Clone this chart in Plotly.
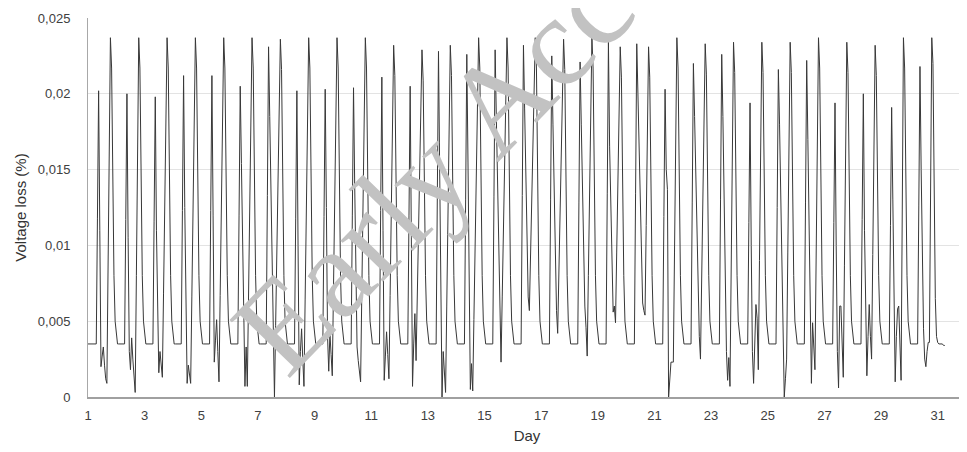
import plotly.graph_objects as go

# Hourly voltage loss (%), one list per day (hours 0..23)
day_01 = [0.0035, 0.0035, 0.0035, 0.0035, 0.0035, 0.0035, 0.0035, 0.0035, 0.0118, 0.0202, 0.0110, 0.0020, 0.0027, 0.0033, 0.0021, 0.0012, 0.0009, 0.0085, 0.0160, 0.0237, 0.0217, 0.0140, 0.0080, 0.0050]
day_02 = [0.0040, 0.0035, 0.0035, 0.0035, 0.0035, 0.0035, 0.0035, 0.0035, 0.0117, 0.0200, 0.0105, 0.0030, 0.0018, 0.0039, 0.0025, 0.0010, 0.0003, 0.0080, 0.0160, 0.0237, 0.0217, 0.0140, 0.0080, 0.0050]
day_03 = [0.0040, 0.0035, 0.0035, 0.0035, 0.0035, 0.0035, 0.0035, 0.0035, 0.0116, 0.0198, 0.0110, 0.0050, 0.0016, 0.0030, 0.0022, 0.0013, 0.0068, 0.0125, 0.0181, 0.0237, 0.0217, 0.0140, 0.0080, 0.0050]
day_04 = [0.0040, 0.0035, 0.0035, 0.0035, 0.0035, 0.0035, 0.0035, 0.0035, 0.0123, 0.0212, 0.0125, 0.0050, 0.0009, 0.0021, 0.0015, 0.0009, 0.0066, 0.0123, 0.0180, 0.0237, 0.0217, 0.0140, 0.0080, 0.0050]
day_05 = [0.0040, 0.0035, 0.0035, 0.0035, 0.0035, 0.0035, 0.0035, 0.0035, 0.0123, 0.0212, 0.0120, 0.0023, 0.0037, 0.0051, 0.0030, 0.0010, 0.0067, 0.0124, 0.0180, 0.0237, 0.0217, 0.0140, 0.0080, 0.0050]
day_06 = [0.0040, 0.0035, 0.0035, 0.0035, 0.0035, 0.0035, 0.0035, 0.0035, 0.0120, 0.0205, 0.0154, 0.0103, 0.0052, 0.0007, 0.0033, 0.0007, 0.0064, 0.0122, 0.0180, 0.0237, 0.0217, 0.0140, 0.0080, 0.0050]
day_07 = [0.0040, 0.0035, 0.0035, 0.0035, 0.0035, 0.0035, 0.0035, 0.0035, 0.0133, 0.0231, 0.0185, 0.0139, 0.0092, 0.0046, 0.0000, 0.0047, 0.0094, 0.0142, 0.0189, 0.0236, 0.0216, 0.0140, 0.0080, 0.0050]
day_08 = [0.0040, 0.0035, 0.0035, 0.0035, 0.0035, 0.0035, 0.0035, 0.0035, 0.0118, 0.0202, 0.0100, 0.0008, 0.0030, 0.0045, 0.0025, 0.0007, 0.0064, 0.0121, 0.0179, 0.0237, 0.0217, 0.0140, 0.0080, 0.0050]
day_09 = [0.0040, 0.0035, 0.0035, 0.0035, 0.0035, 0.0035, 0.0035, 0.0035, 0.0119, 0.0203, 0.0125, 0.0040, 0.0017, 0.0042, 0.0028, 0.0014, 0.0070, 0.0126, 0.0181, 0.0237, 0.0217, 0.0140, 0.0080, 0.0050]
day_10 = [0.0040, 0.0035, 0.0035, 0.0035, 0.0035, 0.0035, 0.0035, 0.0035, 0.0120, 0.0204, 0.0140, 0.0075, 0.0033, 0.0024, 0.0017, 0.0010, 0.0067, 0.0123, 0.0180, 0.0237, 0.0217, 0.0140, 0.0080, 0.0050]
day_11 = [0.0040, 0.0035, 0.0035, 0.0035, 0.0035, 0.0035, 0.0035, 0.0035, 0.0123, 0.0211, 0.0110, 0.0011, 0.0027, 0.0043, 0.0028, 0.0012, 0.0067, 0.0122, 0.0177, 0.0232, 0.0212, 0.0140, 0.0080, 0.0050]
day_12 = [0.0040, 0.0035, 0.0035, 0.0035, 0.0035, 0.0035, 0.0035, 0.0035, 0.0120, 0.0205, 0.0105, 0.0007, 0.0035, 0.0055, 0.0024, 0.0065, 0.0106, 0.0147, 0.0188, 0.0229, 0.0209, 0.0140, 0.0080, 0.0050]
day_13 = [0.0040, 0.0035, 0.0035, 0.0035, 0.0035, 0.0035, 0.0035, 0.0035, 0.0131, 0.0228, 0.0150, 0.0075, 0.0000, 0.0030, 0.0015, 0.0003, 0.0060, 0.0117, 0.0175, 0.0232, 0.0212, 0.0140, 0.0080, 0.0050]
day_14 = [0.0040, 0.0035, 0.0035, 0.0035, 0.0035, 0.0035, 0.0035, 0.0035, 0.0130, 0.0226, 0.0155, 0.0080, 0.0005, 0.0022, 0.0004, 0.0051, 0.0097, 0.0144, 0.0190, 0.0237, 0.0217, 0.0140, 0.0080, 0.0050]
day_15 = [0.0040, 0.0035, 0.0035, 0.0035, 0.0035, 0.0035, 0.0035, 0.0035, 0.0132, 0.0229, 0.0185, 0.0140, 0.0095, 0.0050, 0.0023, 0.0066, 0.0109, 0.0151, 0.0194, 0.0237, 0.0217, 0.0140, 0.0080, 0.0050]
day_16 = [0.0040, 0.0035, 0.0035, 0.0035, 0.0035, 0.0035, 0.0035, 0.0035, 0.0133, 0.0232, 0.0190, 0.0140, 0.0090, 0.0066, 0.0057, 0.0094, 0.0130, 0.0166, 0.0201, 0.0237, 0.0217, 0.0140, 0.0080, 0.0050]
day_17 = [0.0040, 0.0035, 0.0035, 0.0035, 0.0035, 0.0035, 0.0035, 0.0035, 0.0130, 0.0225, 0.0180, 0.0130, 0.0080, 0.0057, 0.0042, 0.0081, 0.0120, 0.0158, 0.0197, 0.0236, 0.0216, 0.0140, 0.0080, 0.0050]
day_18 = [0.0040, 0.0035, 0.0035, 0.0035, 0.0035, 0.0035, 0.0035, 0.0035, 0.0128, 0.0221, 0.0180, 0.0140, 0.0100, 0.0060, 0.0046, 0.0027, 0.0080, 0.0133, 0.0185, 0.0237, 0.0217, 0.0140, 0.0080, 0.0050]
day_19 = [0.0040, 0.0035, 0.0035, 0.0035, 0.0035, 0.0035, 0.0035, 0.0035, 0.0134, 0.0234, 0.0165, 0.0120, 0.0075, 0.0056, 0.0060, 0.0049, 0.0095, 0.0140, 0.0186, 0.0231, 0.0211, 0.0140, 0.0080, 0.0050]
day_20 = [0.0040, 0.0035, 0.0035, 0.0035, 0.0035, 0.0035, 0.0035, 0.0035, 0.0134, 0.0233, 0.0200, 0.0165, 0.0130, 0.0095, 0.0062, 0.0057, 0.0054, 0.0113, 0.0172, 0.0231, 0.0211, 0.0140, 0.0080, 0.0050]
day_21 = [0.0040, 0.0035, 0.0035, 0.0035, 0.0035, 0.0035, 0.0035, 0.0035, 0.0119, 0.0203, 0.0150, 0.0137, 0.0000, 0.0012, 0.0023, 0.0023, 0.0023, 0.0095, 0.0166, 0.0237, 0.0217, 0.0140, 0.0080, 0.0050]
day_22 = [0.0040, 0.0035, 0.0035, 0.0035, 0.0035, 0.0035, 0.0035, 0.0035, 0.0128, 0.0220, 0.0185, 0.0150, 0.0110, 0.0070, 0.0040, 0.0025, 0.0077, 0.0129, 0.0181, 0.0233, 0.0213, 0.0140, 0.0080, 0.0050]
day_23 = [0.0040, 0.0035, 0.0035, 0.0035, 0.0035, 0.0035, 0.0035, 0.0035, 0.0130, 0.0226, 0.0185, 0.0130, 0.0075, 0.0030, 0.0011, 0.0026, 0.0007, 0.0083, 0.0158, 0.0234, 0.0214, 0.0140, 0.0080, 0.0050]
day_24 = [0.0040, 0.0035, 0.0035, 0.0035, 0.0035, 0.0035, 0.0035, 0.0035, 0.0115, 0.0194, 0.0100, 0.0030, 0.0009, 0.0040, 0.0061, 0.0052, 0.0018, 0.0090, 0.0162, 0.0234, 0.0214, 0.0140, 0.0080, 0.0050]
day_25 = [0.0040, 0.0035, 0.0035, 0.0035, 0.0035, 0.0035, 0.0035, 0.0035, 0.0125, 0.0216, 0.0180, 0.0140, 0.0095, 0.0050, 0.0000, 0.0012, 0.0025, 0.0095, 0.0165, 0.0234, 0.0214, 0.0140, 0.0080, 0.0050]
day_26 = [0.0040, 0.0035, 0.0035, 0.0035, 0.0035, 0.0035, 0.0035, 0.0035, 0.0128, 0.0222, 0.0170, 0.0120, 0.0065, 0.0009, 0.0049, 0.0030, 0.0018, 0.0091, 0.0164, 0.0237, 0.0217, 0.0140, 0.0080, 0.0050]
day_27 = [0.0040, 0.0035, 0.0035, 0.0035, 0.0035, 0.0035, 0.0035, 0.0035, 0.0115, 0.0194, 0.0100, 0.0030, 0.0006, 0.0060, 0.0060, 0.0035, 0.0013, 0.0087, 0.0160, 0.0234, 0.0214, 0.0140, 0.0080, 0.0050]
day_28 = [0.0040, 0.0035, 0.0035, 0.0035, 0.0035, 0.0035, 0.0035, 0.0035, 0.0117, 0.0200, 0.0110, 0.0050, 0.0014, 0.0040, 0.0061, 0.0040, 0.0025, 0.0094, 0.0163, 0.0232, 0.0212, 0.0140, 0.0080, 0.0050]
day_29 = [0.0040, 0.0035, 0.0035, 0.0035, 0.0035, 0.0035, 0.0035, 0.0035, 0.0113, 0.0191, 0.0130, 0.0050, 0.0010, 0.0040, 0.0058, 0.0060, 0.0035, 0.0011, 0.0124, 0.0237, 0.0217, 0.0140, 0.0080, 0.0050]
day_30 = [0.0040, 0.0035, 0.0035, 0.0035, 0.0035, 0.0035, 0.0035, 0.0035, 0.0126, 0.0218, 0.0150, 0.0090, 0.0045, 0.0025, 0.0020, 0.0030, 0.0036, 0.0036, 0.0136, 0.0237, 0.0220, 0.0130, 0.0065, 0.0040]
day_31 = [0.0036, 0.0035, 0.0035, 0.0035, 0.0035, 0.0034, 0.0034]

days = [day_01, day_02, day_03, day_04, day_05, day_06, day_07, day_08, day_09, day_10,
        day_11, day_12, day_13, day_14, day_15, day_16, day_17, day_18, day_19, day_20,
        day_21, day_22, day_23, day_24, day_25, day_26, day_27, day_28, day_29, day_30, day_31]

x_tick_vals = [1, 3, 5, 7, 9, 11, 13, 15, 17, 19, 21, 23, 25, 27, 29, 31]
x_tick_text = [str(v) for v in x_tick_vals]
y_tick_vals = [0, 0.005, 0.01, 0.015, 0.02, 0.025]
y_tick_text = ["0", "0,005", "0,01", "0,015", "0,02", "0,025"]

x, y = [], []
for d, vals in enumerate(days, start=1):
    for h, v in enumerate(vals):
        x.append(d + h / 24.0)
        y.append(v)

fig = go.Figure()
fig.add_trace(go.Scatter(x=x, y=y, mode="lines",
                         line=dict(color="#383838", width=1),
                         hoverinfo="skip", showlegend=False))

font_main = "Liberation Sans, Arial, sans-serif"

# The page body adds an 8px offset, so the figure is drawn 8px smaller
fig.update_layout(
    width=959, height=444,
    margin=dict(l=80, r=1, t=10, b=55, autoexpand=False),
    paper_bgcolor="white", plot_bgcolor="white",
    font=dict(family=font_main, size=13, color="#404040"),
    xaxis=dict(range=[1, 32], tickmode="array", tickvals=x_tick_vals, ticktext=x_tick_text,
               showgrid=False, zeroline=False, showline=True, linecolor="#a0a0a0", linewidth=1.5,
               ticks="", ticklabelstandoff=6, automargin=False,
               title=dict(text="Day", font=dict(size=15, color="#333333"), standoff=8)),
    yaxis=dict(range=[0, 0.025], tickmode="array", tickvals=y_tick_vals, ticktext=y_tick_text,
               showgrid=True, gridcolor="#e3e3e3", gridwidth=1, zeroline=False,
               showline=True, linecolor="#a8a8a8", linewidth=1,
               ticks="", ticklabelstandoff=14, automargin=False,
               title=dict(text="Voltage loss (%)", font=dict(size=15, color="#333333"), standoff=7)),
)

fig.add_annotation(text="Early Access", xref="paper", yref="paper",
                   x=(487 - 88) / 878, y=(397 - 112) / 379,
                   xanchor="center", yanchor="middle", showarrow=False, textangle=-46,
                   font=dict(family="Liberation Serif, Times New Roman, serif", size=128, color="#c2c2c2"))

fig.write_html("out.html")
